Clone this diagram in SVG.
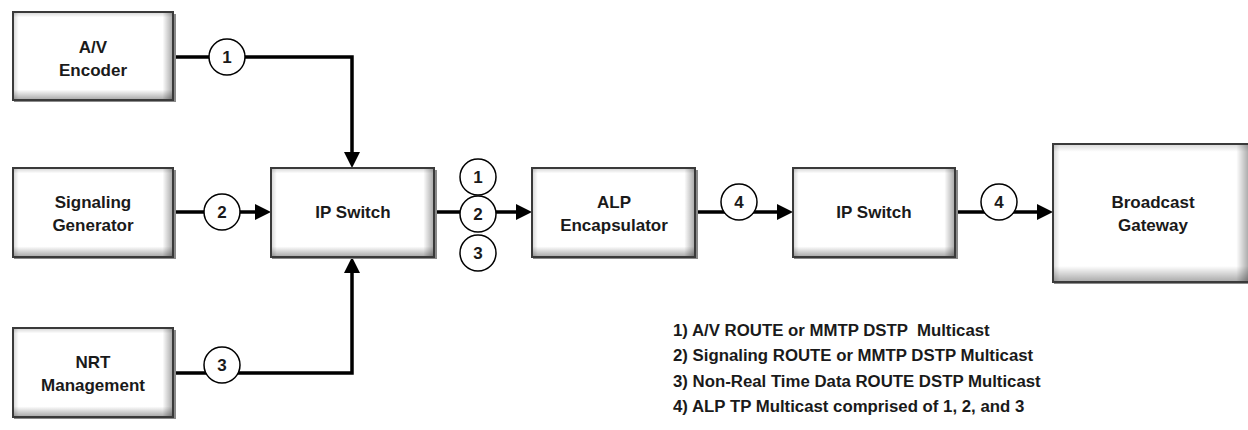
<svg xmlns="http://www.w3.org/2000/svg" width="1248" height="430" viewBox="0 0 1248 430">
<style>
.bx{fill:#fff;stroke:#3a3a3a;stroke-width:2}
.sh{fill:#8a8a8a}
.gh{fill:url(#gh);stroke:none}
.gv{fill:url(#gv);stroke:none}
.t{font-family:"Liberation Sans",Arial,sans-serif;font-weight:bold;font-size:17px;fill:#1a1a1a;text-anchor:middle}
.n{font-family:"Liberation Sans",Arial,sans-serif;font-weight:bold;font-size:17px;fill:#1a1a1a;text-anchor:middle}
.c{fill:#fff;stroke:#000;stroke-width:1.5}
.ln{fill:none;stroke:#000;stroke-width:3.5;stroke-linejoin:miter}
.lg{font-family:"Liberation Sans",Arial,sans-serif;font-weight:bold;font-size:16.8px;fill:#1a1a1a}
</style>
<defs>
<linearGradient id="gh" x1="0" y1="0" x2="1" y2="0">
<stop offset="0" stop-color="#000" stop-opacity="0.14"/>
<stop offset="0.03" stop-color="#000" stop-opacity="0"/>
<stop offset="0.94" stop-color="#000" stop-opacity="0"/>
<stop offset="1" stop-color="#000" stop-opacity="0.32"/>
</linearGradient>
<linearGradient id="gv" x1="0" y1="0" x2="0" y2="1">
<stop offset="0" stop-color="#000" stop-opacity="0.14"/>
<stop offset="0.05" stop-color="#000" stop-opacity="0"/>
<stop offset="0.89" stop-color="#000" stop-opacity="0"/>
<stop offset="1" stop-color="#000" stop-opacity="0.32"/>
</linearGradient>
<marker id="ah" markerUnits="userSpaceOnUse" viewBox="0 0 16 16" markerWidth="16" markerHeight="16" refX="1" refY="8" orient="auto">
<path d="M0,0 L16,8 L0,16 z" fill="#000"/>
</marker>
</defs>

<g id="connectors">
<path class="ln" d="M174,57 H352 V153" marker-end="url(#ah)"/>
<path class="ln" d="M174,212 H256" marker-end="url(#ah)"/>
<path class="ln" d="M174,373 H352 V272" marker-end="url(#ah)"/>
<path class="ln" d="M435,212 H517" marker-end="url(#ah)"/>
<path class="ln" d="M696,212 H778" marker-end="url(#ah)"/>
<path class="ln" d="M956,212 H1038" marker-end="url(#ah)"/>
</g>

<g id="av-encoder">
<rect class="sh" x="14" y="14" width="162" height="88"/>
<rect class="bx" x="13" y="12" width="160" height="88"/>
<rect class="gh" x="14" y="13" width="158" height="86"/>
<rect class="gv" x="14" y="13" width="158" height="86"/>
<text class="t" x="93" y="53">A/V</text>
<text class="t" x="93" y="76">Encoder</text>
</g>

<g id="signaling-generator">
<rect class="sh" x="14" y="170" width="162" height="89"/>
<rect class="bx" x="13" y="168" width="160" height="89"/>
<rect class="gh" x="14" y="169" width="158" height="87"/>
<rect class="gv" x="14" y="169" width="158" height="87"/>
<text class="t" x="93" y="208">Signaling</text>
<text class="t" x="93" y="231">Generator</text>
</g>

<g id="nrt-management">
<rect class="sh" x="14" y="330" width="162" height="89"/>
<rect class="bx" x="13" y="328" width="160" height="89"/>
<rect class="gh" x="14" y="329" width="158" height="87"/>
<rect class="gv" x="14" y="329" width="158" height="87"/>
<text class="t" x="93" y="368">NRT</text>
<text class="t" x="93" y="391">Management</text>
</g>

<g id="ip-switch-1">
<rect class="sh" x="272" y="170" width="165" height="89"/>
<rect class="bx" x="271" y="168" width="163" height="89"/>
<rect class="gh" x="272" y="169" width="161" height="87"/>
<rect class="gv" x="272" y="169" width="161" height="87"/>
<text class="t" x="353" y="218">IP Switch</text>
</g>

<g id="alp-encapsulator">
<rect class="sh" x="533" y="170" width="165" height="89"/>
<rect class="bx" x="532" y="168" width="163" height="89"/>
<rect class="gh" x="533" y="169" width="161" height="87"/>
<rect class="gv" x="533" y="169" width="161" height="87"/>
<text class="t" x="614" y="208">ALP</text>
<text class="t" x="614" y="231">Encapsulator</text>
</g>

<g id="ip-switch-2">
<rect class="sh" x="794" y="170" width="164" height="89"/>
<rect class="bx" x="793" y="168" width="162" height="89"/>
<rect class="gh" x="794" y="169" width="160" height="87"/>
<rect class="gv" x="794" y="169" width="160" height="87"/>
<text class="t" x="874" y="218">IP Switch</text>
</g>

<g id="broadcast-gateway">
<rect class="sh" x="1054" y="146" width="200" height="138"/>
<rect class="bx" x="1053" y="144" width="200" height="138"/>
<rect class="gh" x="1054" y="145" width="194" height="136"/>
<rect class="gv" x="1054" y="145" width="194" height="136"/>
<text class="t" x="1153" y="208">Broadcast</text>
<text class="t" x="1153" y="231">Gateway</text>
</g>

<g id="labels">
<circle class="c" cx="227" cy="57" r="18"/><text class="n" x="227" y="63">1</text>
<circle class="c" cx="222" cy="212" r="18"/><text class="n" x="222" y="218">2</text>
<circle class="c" cx="222" cy="365" r="18"/><text class="n" x="222" y="371">3</text>
<circle class="c" cx="478" cy="177" r="18"/><text class="n" x="478" y="183">1</text>
<circle class="c" cx="478" cy="214" r="18"/><text class="n" x="478" y="220">2</text>
<circle class="c" cx="478" cy="253" r="18"/><text class="n" x="478" y="259">3</text>
<circle class="c" cx="739" cy="202" r="18"/><text class="n" x="739" y="208">4</text>
<circle class="c" cx="999" cy="202" r="18"/><text class="n" x="999" y="208">4</text>
</g>

<g id="legend">
<text class="lg" x="673" y="336" xml:space="preserve">1) A/V ROUTE or MMTP DSTP  Multicast</text>
<text class="lg" x="673" y="361">2) Signaling ROUTE or MMTP DSTP Multicast</text>
<text class="lg" x="673" y="387">3) Non-Real Time Data ROUTE DSTP Multicast</text>
<text class="lg" x="673" y="412">4) ALP TP Multicast comprised of 1, 2, and 3</text>
</g>
</svg>
